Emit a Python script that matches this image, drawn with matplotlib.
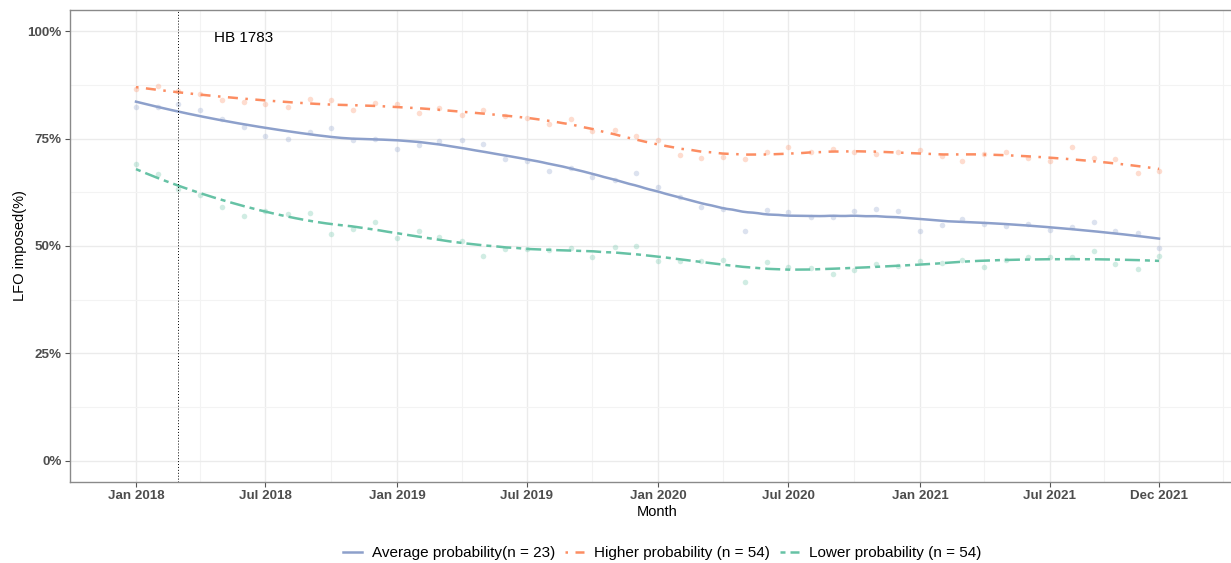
import numpy as np
import pandas as pd
import matplotlib
matplotlib.use("Agg")
import matplotlib.pyplot as plt
import matplotlib.dates as mdates
from matplotlib.ticker import PercentFormatter, FixedLocator
from matplotlib.lines import Line2D

plt.rcParams['font.family'] = ['Liberation Sans', 'DejaVu Sans']

# ---------------- data ----------------
months = pd.date_range('2018-01-01', '2021-12-01', freq='MS')

average = [0.824, 0.824, 0.830, 0.816, 0.795, 0.777, 0.756, 0.750, 0.766, 0.774, 0.747, 0.750, 0.727,
           0.736, 0.744, 0.746, 0.737, 0.702, 0.698, 0.675, 0.682, 0.660, 0.653, 0.669, 0.638, 0.615,
           0.591, 0.586, 0.536, 0.584, 0.580, 0.567, 0.567, 0.582, 0.586, 0.581, 0.536, 0.549, 0.564,
           0.551, 0.547, 0.551, 0.537, 0.544, 0.556, 0.536, 0.530, 0.496]

higher = [0.867, 0.873, 0.861, 0.855, 0.840, 0.836, 0.832, 0.823, 0.843, 0.840, 0.817, 0.833, 0.831,
          0.809, 0.822, 0.805, 0.816, 0.804, 0.799, 0.784, 0.795, 0.767, 0.770, 0.756, 0.747, 0.711,
          0.705, 0.707, 0.702, 0.719, 0.730, 0.720, 0.727, 0.720, 0.715, 0.719, 0.723, 0.709, 0.698,
          0.715, 0.719, 0.705, 0.698, 0.731, 0.705, 0.702, 0.670, 0.674]

lower = [0.690, 0.667, 0.634, 0.619, 0.591, 0.571, 0.581, 0.574, 0.577, 0.529, 0.539, 0.557, 0.519,
         0.535, 0.521, 0.512, 0.477, 0.494, 0.493, 0.491, 0.496, 0.475, 0.498, 0.500, 0.466, 0.466,
         0.464, 0.467, 0.416, 0.463, 0.450, 0.448, 0.435, 0.444, 0.459, 0.453, 0.466, 0.460, 0.467,
         0.450, 0.467, 0.474, 0.474, 0.475, 0.488, 0.457, 0.447, 0.476]

series_labels = ['Average probability(n = 23)', 'Higher probability (n = 54)', 'Lower probability (n = 54)']
series_colors = ['#8DA0CB', '#FC8D62', '#66C2A5']

tick_dates = ['2018-01-01', '2018-07-01', '2019-01-01', '2019-07-01', '2020-01-01',
              '2020-07-01', '2021-01-01', '2021-07-01', '2021-12-01']
tick_labels = ['Jan 2018', 'Jul 2018', 'Jan 2019', 'Jul 2019', 'Jan 2020',
               'Jul 2020', 'Jan 2021', 'Jul 2021', 'Dec 2021']
minor_dates = ['2018-04-01', '2018-10-01', '2019-04-01', '2019-10-01', '2020-04-01',
               '2020-10-01', '2021-04-01', '2021-09-15', '2022-03-01']

event_date = '2018-03-01'
event_label = 'HB 1783'


# ---------------- loess (like geom_smooth) ----------------
def loess(x, y, xnew, span=0.45):
    x = np.asarray(x, float)
    y = np.asarray(y, float)
    n = len(x)
    q = int(np.floor(span * n))
    out = np.empty(len(xnew))
    for k, x0 in enumerate(xnew):
        d = np.abs(x - x0)
        dmax = np.sort(d)[q - 1] * 1.0001
        w = np.clip(1 - (d / dmax) ** 3, 0, None) ** 3
        X = np.column_stack([np.ones(n), x - x0, (x - x0) ** 2])
        W = np.sqrt(w)
        beta, *_ = np.linalg.lstsq(X * W[:, None], y * W, rcond=None)
        out[k] = beta[0]
    return out


xnum = mdates.date2num(months.to_pydatetime())
xgrid = np.linspace(xnum[0], xnum[-1], 200)

W, H = 1231, 563
fig = plt.figure(figsize=(W / 100, H / 100), dpi=100)
ax = fig.add_axes([70 / W, (H - 482) / H, (1244 - 70) / W, (482 - 10) / H])

styles = ['-', (0, (1, 3, 4, 3)), (0, (2, 2, 6, 2))]
handles = []
for vals, col, ls, lab in zip([average, higher, lower], series_colors, styles, series_labels):
    ax.scatter(xnum, vals, s=16, color=col, alpha=0.3, linewidths=0, zorder=2)
    sm = loess(xnum, vals, xgrid)
    ax.plot(xgrid, sm, color=col, lw=1.8, linestyle=ls, zorder=3, dash_capstyle='butt')
    handles.append(Line2D([], [], color=col, lw=1.8, linestyle=ls))

ev = mdates.date2num(pd.Timestamp(event_date))
ax.axvline(ev, color='black', lw=0.7, linestyle=(0, (1, 2)), zorder=4)
ax.text(mdates.date2num(pd.Timestamp('2018-06-01')), 0.985, event_label,
        ha='center', va='center', fontsize=11, color='black')

# axes limits
x_left = xnum[0] - 66 / 0.7154
x_right = xnum[0] + (1244 - 136) / 0.7154
ax.set_xlim(x_left, x_right)
ax.set_ylim(-0.05, 1.05)

ax.set_yticks([0, 0.25, 0.5, 0.75, 1.0])
ax.yaxis.set_minor_locator(FixedLocator([0.125, 0.375, 0.625, 0.875]))
ax.yaxis.set_major_formatter(PercentFormatter(1.0, decimals=0))
ax.set_xticks([mdates.date2num(pd.Timestamp(d)) for d in tick_dates])
ax.set_xticklabels(tick_labels)
ax.xaxis.set_minor_locator(FixedLocator([mdates.date2num(pd.Timestamp(d)) for d in minor_dates]))

ax.grid(which='major', color='#EBEBEB', lw=1.0, zorder=0)
ax.grid(which='minor', color='#F3F3F3', lw=0.8, zorder=0)
ax.set_axisbelow(True)

for s in ['left', 'bottom', 'top']:
    ax.spines[s].set_color('#8a8a8a')
    ax.spines[s].set_linewidth(1.0)
ax.spines['right'].set_visible(False)

ax.tick_params(axis='both', which='major', length=3.5, width=0.8, color='#555555',
               labelsize=9.6, labelcolor='#4D4D4D', pad=2.5)
ax.tick_params(axis='both', which='minor', length=0)
for lbl in ax.get_xticklabels() + ax.get_yticklabels():
    lbl.set_fontweight('bold')

ax.set_xlabel('Month', fontsize=10.5, color='black', labelpad=2)
ax.set_ylabel('LFO imposed(%)', fontsize=10.5, color='black', labelpad=0)

fig.legend(handles, series_labels, loc='center', bbox_to_anchor=(662 / W, 1 - 553 / H),
           ncol=3, frameon=False, fontsize=11, handlelength=1.25, handletextpad=0.65,
           columnspacing=0.65)

fig.savefig('out.png', dpi=100)
